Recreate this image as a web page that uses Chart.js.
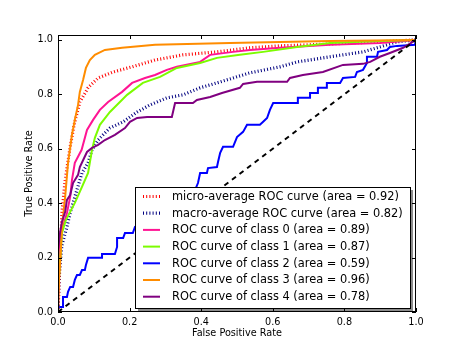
<!DOCTYPE html>
<html>
<head>
<meta charset="utf-8">
<script src="https://cdn.jsdelivr.net/npm/chart.js@4"></script>
<style>
  html, body { margin: 0; padding: 0; background: #fff; }
  canvas { display: block; }
</style>
</head>
<body>
<canvas id="roc-chart" width="463" height="348"></canvas>
<script>
// tick values for both axes
const xTicks = [0, 0.2, 0.4, 0.6, 0.8, 1.0];
const yTicks = [0, 0.2, 0.4, 0.6, 0.8, 1.0];

// micro-average ROC curve
const microFpr = [0, 0.003, 0.011, 0.020, 0.034, 0.045, 0.061, 0.084, 0.112, 0.154, 0.207, 0.271, 0.349, 0.444, 0.536, 0.620, 0.760, 0.899, 1];
const microTpr = [0, 0.10, 0.364, 0.485, 0.607, 0.688, 0.772, 0.824, 0.860, 0.882, 0.901, 0.926, 0.945, 0.956, 0.971, 0.978, 0.985, 0.993, 1];

// macro-average ROC curve
const macroFpr = [0, 0.003, 0.011, 0.025, 0.034, 0.047, 0.067, 0.084, 0.095, 0.112, 0.131, 0.145, 0.182, 0.221, 0.257, 0.304, 0.349, 0.397, 0.444, 0.489, 0.536, 0.620, 0.668, 0.760, 0.852, 0.899, 0.947, 1];
const macroTpr = [0, 0.136, 0.246, 0.313, 0.364, 0.423, 0.511, 0.548, 0.596, 0.632, 0.658, 0.676, 0.699, 0.735, 0.761, 0.787, 0.798, 0.824, 0.842, 0.860, 0.879, 0.901, 0.919, 0.938, 0.956, 0.974, 0.993, 1];

// class 0
const class0Fpr = [0, 0.003, 0.006, 0.014, 0.025, 0.034, 0.039, 0.047, 0.066, 0.081, 0.098, 0.117, 0.140, 0.179, 0.207, 0.243, 0.271, 0.304, 0.332, 0.397, 0.425, 0.489, 0.536, 0.620, 0.760, 0.899, 1];
const class0Tpr = [0, 0.154, 0.265, 0.313, 0.364, 0.423, 0.485, 0.548, 0.596, 0.669, 0.706, 0.743, 0.772, 0.809, 0.842, 0.860, 0.871, 0.890, 0.901, 0.919, 0.945, 0.956, 0.963, 0.971, 0.982, 0.989, 1];

// class 1
const class1Fpr = [0, 0, 0.006, 0.011, 0.022, 0.034, 0.047, 0.067, 0.084, 0.095, 0.103, 0.117, 0.145, 0.193, 0.237, 0.285, 0.332, 0.397, 0.444, 0.508, 0.573, 0.668, 0.760, 0.899, 1];
const class1Tpr = [0, 0.081, 0.191, 0.290, 0.338, 0.368, 0.401, 0.460, 0.511, 0.596, 0.640, 0.688, 0.735, 0.798, 0.842, 0.864, 0.897, 0.915, 0.934, 0.945, 0.956, 0.974, 0.989, 0.996, 1];

// class 2
const class2Fpr = [0, 0, 0.014, 0.014, 0.025, 0.028, 0.034, 0.042, 0.047, 0.053, 0.061, 0.067, 0.075, 0.078, 0.084, 0.123, 0.123, 0.159, 0.165, 0.165, 0.182, 0.187, 0.209, 0.215, 0.257, 0.299, 0.341, 0.383, 0.391, 0.397, 0.416, 0.419, 0.444, 0.447, 0.453, 0.461, 0.489, 0.500, 0.517, 0.528, 0.564, 0.573, 0.584, 0.592, 0.601, 0.668, 0.670, 0.704, 0.704, 0.726, 0.726, 0.751, 0.751, 0.788, 0.796, 0.830, 0.835, 0.852, 0.863, 0.863, 0.891, 0.894, 0.919, 0.927, 0.947, 0.997, 1];
const class2Tpr = [0, 0.018, 0.018, 0.055, 0.055, 0.074, 0.092, 0.092, 0.118, 0.136, 0.136, 0.154, 0.154, 0.173, 0.199, 0.199, 0.213, 0.213, 0.239, 0.272, 0.272, 0.290, 0.290, 0.313, 0.346, 0.375, 0.419, 0.449, 0.474, 0.511, 0.511, 0.529, 0.533, 0.551, 0.585, 0.607, 0.607, 0.643, 0.662, 0.688, 0.688, 0.699, 0.713, 0.743, 0.768, 0.768, 0.787, 0.787, 0.805, 0.805, 0.824, 0.824, 0.842, 0.842, 0.860, 0.864, 0.882, 0.890, 0.915, 0.938, 0.938, 0.956, 0.963, 0.974, 0.978, 0.982, 1];

// class 3
const class3Fpr = [0, 0.003, 0.008, 0.011, 0.020, 0.028, 0.039, 0.047, 0.056, 0.061, 0.070, 0.078, 0.089, 0.103, 0.131, 0.179, 0.271, 0.480, 0.760, 1];
const class3Tpr = [0, 0.118, 0.228, 0.313, 0.423, 0.548, 0.651, 0.706, 0.761, 0.809, 0.853, 0.897, 0.926, 0.945, 0.963, 0.971, 0.982, 0.989, 0.996, 1];

// class 4
const class4Fpr = [0, 0, 0.006, 0.011, 0.020, 0.025, 0.034, 0.042, 0.056, 0.061, 0.073, 0.081, 0.095, 0.112, 0.131, 0.159, 0.187, 0.201, 0.221, 0.249, 0.318, 0.327, 0.377, 0.388, 0.425, 0.458, 0.508, 0.517, 0.556, 0.640, 0.648, 0.684, 0.740, 0.796, 0.852, 0.872, 0.899, 0.927, 0.964, 1];
const class4Tpr = [0, 0.228, 0.294, 0.331, 0.368, 0.412, 0.430, 0.474, 0.504, 0.533, 0.566, 0.588, 0.603, 0.614, 0.632, 0.651, 0.676, 0.699, 0.713, 0.717, 0.717, 0.768, 0.768, 0.779, 0.790, 0.805, 0.824, 0.838, 0.846, 0.846, 0.860, 0.871, 0.882, 0.908, 0.912, 0.919, 0.938, 0.952, 0.971, 1];

// chance line
const chanceFpr = [0, 1];
const chanceTpr = [0, 1];

const curveLabels = [
    'micro-average ROC curve (area = 0.92)',
    'macro-average ROC curve (area = 0.82)',
    'ROC curve of class 0 (area = 0.89)',
    'ROC curve of class 1 (area = 0.87)',
    'ROC curve of class 2 (area = 0.59)',
    'ROC curve of class 3 (area = 0.96)',
    'ROC curve of class 4 (area = 0.78)'
];

function toPoints(fpr, tpr) {
    return fpr.map((x, i) => ({ x: x, y: tpr[i] }));
}

const FONT = "'DejaVu Sans', 'Bitstream Vera Sans', sans-serif";
Chart.defaults.font.family = FONT;
Chart.defaults.font.size = 9.7;
Chart.defaults.color = '#000';

const dotted = [1, 2.2];

const datasets = [
    { label: curveLabels[0], data: toPoints(microFpr, microTpr), borderColor: '#ff0000', borderWidth: 3.2, borderDash: dotted },
    { label: curveLabels[1], data: toPoints(macroFpr, macroTpr), borderColor: '#000080', borderWidth: 3.2, borderDash: dotted },
    { label: curveLabels[2], data: toPoints(class0Fpr, class0Tpr), borderColor: '#ff1493', borderWidth: 2 },
    { label: curveLabels[3], data: toPoints(class1Fpr, class1Tpr), borderColor: '#7cfc00', borderWidth: 2 },
    { label: curveLabels[4], data: toPoints(class2Fpr, class2Tpr), borderColor: '#0000ff', borderWidth: 2 },
    { label: curveLabels[5], data: toPoints(class3Fpr, class3Tpr), borderColor: '#ff8c00', borderWidth: 2 },
    { label: curveLabels[6], data: toPoints(class4Fpr, class4Tpr), borderColor: '#800080', borderWidth: 2 },
    { label: '', data: toPoints(chanceFpr, chanceTpr), borderColor: '#000', borderWidth: 2, borderDash: [5, 4.5], inLegend: false }
];
// later datasets drawn on top, like matplotlib
datasets.forEach((d, i) => {
    d.order = datasets.length - i;
    d.pointRadius = 0;
    d.fill = false;
    d.tension = 0;
    d.borderCapStyle = 'butt';
});

// frame with inward ticks on all four sides
const framePlugin = {
    id: 'frame',
    afterDatasetsDraw(chart) {
        const { ctx, chartArea: a, scales } = chart;
        ctx.save();
        ctx.strokeStyle = '#000';
        ctx.lineWidth = 1;
        ctx.strokeRect(a.left + 0.5, a.top + 0.5, a.right - a.left - 1, a.bottom - a.top - 1);
        ctx.beginPath();
        xTicks.forEach(v => {
            const px = Math.round(scales.x.getPixelForValue(v)) + 0.5;
            ctx.moveTo(px, a.bottom); ctx.lineTo(px, a.bottom - 4);
            ctx.moveTo(px, a.top); ctx.lineTo(px, a.top + 4);
        });
        yTicks.forEach(v => {
            const py = Math.round(scales.y.getPixelForValue(v)) + 0.5;
            ctx.moveTo(a.left, py); ctx.lineTo(a.left + 4, py);
            ctx.moveTo(a.right, py); ctx.lineTo(a.right - 4, py);
        });
        ctx.stroke();
        ctx.restore();
    }
};

// legend box in the lower right of the axes
const legendPlugin = {
    id: 'innerLegend',
    afterDraw(chart) {
        const { ctx, chartArea: a } = chart;
        const w = 275, h = 121;
        const right = a.right - 6, bottom = a.bottom - 4;
        const left = right - w, top = bottom - h;
        ctx.save();
        ctx.fillStyle = 'rgba(0,0,0,0.45)';
        ctx.fillRect(left + 3, top + 3, w, h);
        ctx.fillStyle = '#fff';
        ctx.fillRect(left, top, w, h);
        ctx.strokeStyle = '#000';
        ctx.lineWidth = 1;
        ctx.strokeRect(left + 0.5, top + 0.5, w, h);
        ctx.font = '11.4px ' + FONT;
        ctx.textBaseline = 'middle';
        ctx.fillStyle = '#000';
        const rows = chart.data.datasets.filter(d => d.inLegend !== false);
        rows.forEach((d, i) => {
            const y = top + 9.5 + i * 16.7;
            ctx.beginPath();
            ctx.strokeStyle = d.borderColor;
            ctx.lineWidth = d.borderWidth;
            ctx.lineCap = 'butt';
            ctx.setLineDash(d.borderDash || []);
            ctx.moveTo(left + 8, y);
            ctx.lineTo(left + 25, y);
            ctx.stroke();
            ctx.setLineDash([]);
            ctx.fillText(d.label, left + 37, y + 0.5);
        });
        ctx.restore();
    }
};

new Chart(document.getElementById('roc-chart'), {
    type: 'line',
    data: { datasets: datasets },
    options: {
        responsive: false,
        animation: false,
        devicePixelRatio: 1,
        layout: { padding: { left: 0, right: 47, top: 35, bottom: 0 } },
        plugins: {
            legend: { display: false },
            tooltip: { enabled: false }
        },
        scales: {
            x: {
                type: 'linear',
                min: 0,
                max: 1,
                grid: { display: false, drawTicks: false },
                border: { display: false },
                afterBuildTicks: s => { s.ticks = xTicks.map(v => ({ value: v })); },
                afterFit: s => { s.height = 36; },
                ticks: { padding: 5, maxRotation: 0, callback: v => v.toFixed(1) },
                title: { display: true, text: 'False Positive Rate', padding: { top: 0, bottom: 9 } }
            },
            y: {
                type: 'linear',
                min: 0,
                max: 1.018,
                grid: { display: false, drawTicks: false },
                border: { display: false },
                afterBuildTicks: s => { s.ticks = yTicks.map(v => ({ value: v })); },
                afterFit: s => { s.width = 58; },
                ticks: { padding: 5, callback: v => v.toFixed(1) },
                title: { display: true, text: 'True Positive Rate', padding: { top: 24, bottom: 0 } }
            }
        }
    },
    plugins: [framePlugin, legendPlugin]
});
</script>
</body>
</html>
